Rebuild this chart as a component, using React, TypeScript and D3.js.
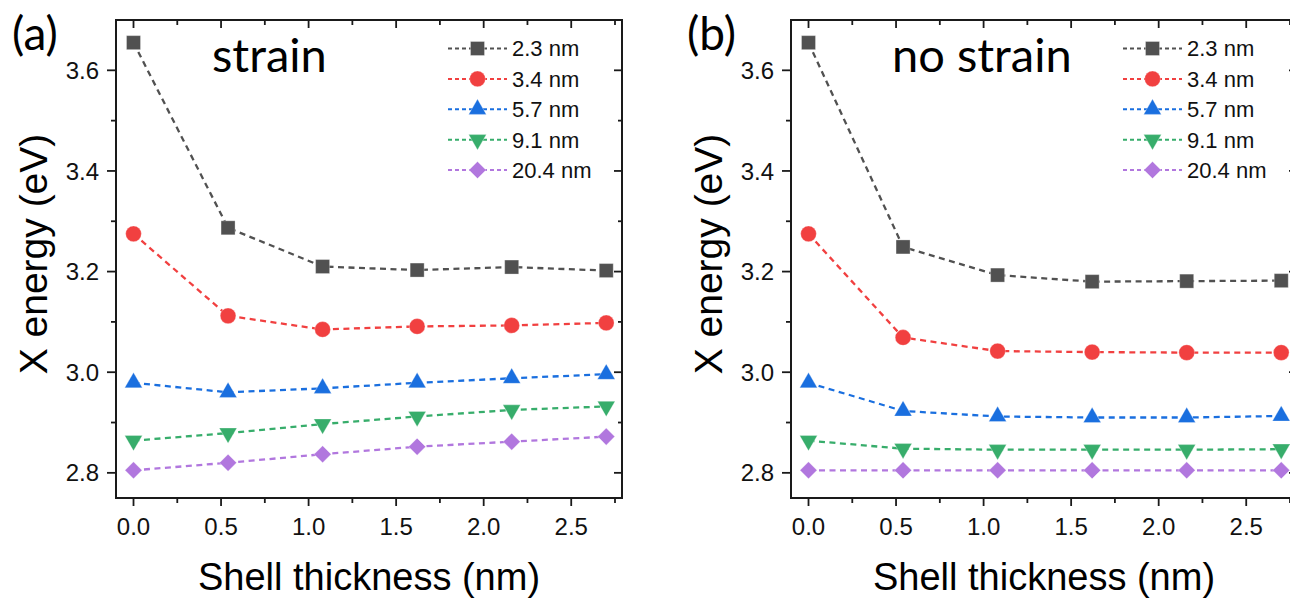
import React from "react";
import * as d3 from "d3";

// shell thickness (nm) for each point
const THICKNESS = [0, 0.54, 1.08, 1.62, 2.16, 2.7];
const CORE_SIZES = ["2.3 nm", "3.4 nm", "5.7 nm", "9.1 nm", "20.4 nm"];
const COLORS = ["#515151", "#F14040", "#1A6FDF", "#37AD6B", "#B177DE"];
const SHAPES = ["square", "circle", "triangle", "down", "diamond"];

// X energy (eV), one row per core size
const STRAIN = [
  [3.655, 3.287, 3.21, 3.203, 3.209, 3.202],
  [3.275, 3.112, 3.085, 3.091, 3.093, 3.098],
  [2.979, 2.96, 2.968, 2.979, 2.988, 2.996],
  [2.864, 2.879, 2.897, 2.912, 2.925, 2.932],
  [2.805, 2.82, 2.837, 2.852, 2.862, 2.872],
];
const NO_STRAIN = [
  [3.655, 3.249, 3.193, 3.18, 3.181, 3.182],
  [3.275, 3.069, 3.042, 3.04, 3.039, 3.039],
  [2.979, 2.923, 2.912, 2.91, 2.91, 2.913],
  [2.864, 2.848, 2.846, 2.846, 2.846, 2.847],
  [2.805, 2.805, 2.805, 2.805, 2.805, 2.805],
];

const Y_MAJOR = [2.8, 3.0, 3.2, 3.4, 3.6];
const Y_MINOR = [2.9, 3.1, 3.3, 3.5];
const X_MAJOR = [0, 0.5, 1.0, 1.5, 2.0, 2.5];
const X_MINOR = [0.25, 0.75, 1.25, 1.75, 2.25, 2.75];

const W = 1290, H = 598;
const PW = 506, TOP = 20, BOTTOM = 498;
const AXIS_FONT = "'Liberation Sans', Arial, sans-serif";
const LABEL_FONT = "Lato, 'Open Sans', sans-serif";

const markerPath: Record<string, string> = {
  square: d3.symbol(d3.symbolSquare, 196)() as string,
  circle: d3.symbol(d3.symbolCircle, 195)() as string,
  triangle: d3.symbol(d3.symbolTriangle, 135)() as string,
  down: d3.symbol(d3.symbolTriangle, 135)() as string,
  diamond: d3.symbol(d3.symbolSquare, 145)() as string,
};
const markerRot: Record<string, number> = { square: 0, circle: 0, triangle: 0, down: 180, diamond: 45 };

function Marker({ shape, x, y, color }: { shape: string; x: number; y: number; color: string }) {
  return (
    <path
      d={markerPath[shape]}
      transform={`translate(${x},${y}) rotate(${markerRot[shape]})`}
      fill={color}
      stroke="#fff"
      strokeOpacity={0.5}
      strokeWidth={0.6}
    />
  );
}

function Panel({ left, data, tag, note }: { left: number; data: number[][]; tag: string; note: string }) {
  const x = d3.scaleLinear().domain([-0.1, 2.79]).range([left, left + PW]);
  const y = d3.scaleLinear().domain([2.75, 3.7]).range([BOTTOM, TOP]);
  const line = d3.line<number>().x((_, i) => x(THICKNESS[i])).y(d => y(d));
  const right = left + PW;

  return (
    <g>
      {/* series */}
      {data.map((row, s) => (
        <g key={s}>
          <path d={line(row) as string} fill="none" stroke={COLORS[s]} strokeWidth={2.3} strokeDasharray="6,4.5" />
          {row.map((v, i) => (
            <Marker key={i} shape={SHAPES[s]} x={x(THICKNESS[i])} y={y(v)} color={COLORS[s]} />
          ))}
        </g>
      ))}

      {/* frame */}
      <rect x={left} y={TOP} width={PW} height={BOTTOM - TOP} fill="none" stroke="#1a1a1a" strokeWidth={2} />

      {/* y ticks */}
      {Y_MAJOR.map(v => (
        <g key={"ym" + v}>
          <line x1={left - 9} x2={left} y1={y(v)} y2={y(v)} stroke="#1a1a1a" strokeWidth={1.8} />
          <line x1={right - 8} x2={right} y1={y(v)} y2={y(v)} stroke="#1a1a1a" strokeWidth={1.8} />
          <text x={left - 17} y={y(v)} dy="0.36em" textAnchor="end" fontFamily={AXIS_FONT} fontSize={24} fill="#111">
            {v.toFixed(1)}
          </text>
        </g>
      ))}
      {Y_MINOR.map(v => (
        <g key={"yn" + v}>
          <line x1={left - 5} x2={left} y1={y(v)} y2={y(v)} stroke="#1a1a1a" strokeWidth={1.8} />
          <line x1={right - 4} x2={right} y1={y(v)} y2={y(v)} stroke="#1a1a1a" strokeWidth={1.8} />
        </g>
      ))}

      {/* x ticks */}
      {X_MAJOR.map(v => (
        <g key={"xm" + v}>
          <line x1={x(v)} x2={x(v)} y1={BOTTOM} y2={BOTTOM + 8} stroke="#1a1a1a" strokeWidth={1.8} />
          <line x1={x(v)} x2={x(v)} y1={TOP} y2={TOP + 8} stroke="#1a1a1a" strokeWidth={1.8} />
          <text x={x(v)} y={535} textAnchor="middle" fontFamily={AXIS_FONT} fontSize={24} fill="#111">
            {v.toFixed(1)}
          </text>
        </g>
      ))}
      {X_MINOR.map(v => (
        <g key={"xn" + v}>
          <line x1={x(v)} x2={x(v)} y1={BOTTOM} y2={BOTTOM + 5} stroke="#1a1a1a" strokeWidth={1.8} />
          <line x1={x(v)} x2={x(v)} y1={TOP} y2={TOP + 5} stroke="#1a1a1a" strokeWidth={1.8} />
        </g>
      ))}

      {/* axis titles */}
      <text x={left + PW / 2} y={590} textAnchor="middle" fontFamily={AXIS_FONT} fontSize={38} fill="#000">
        Shell thickness (nm)
      </text>
      <text
        transform={`translate(${left - 69},254) rotate(-90)`}
        textAnchor="middle"
        fontFamily={AXIS_FONT}
        fontSize={39}
        fill="#000"
      >
        X energy (eV)
      </text>

      {/* legend */}
      {CORE_SIZES.map((name, s) => {
        const ly = 48.5 + s * 30.4;
        return (
          <g key={name}>
            <line x1={left + 332} x2={left + 391} y1={ly} y2={ly} stroke={COLORS[s]} strokeWidth={2} strokeDasharray="4,3" />
            <Marker shape={SHAPES[s]} x={left + 361.5} y={ly} color={COLORS[s]} />
            <text x={left + 396} y={ly} dy="0.36em" fontFamily={AXIS_FONT} fontSize={22} fill="#111">
              {name}
            </text>
          </g>
        );
      })}

      {/* annotations */}
      <text x={left - 104} y={50} fontFamily={LABEL_FONT} fontSize={46} fill="#000">{tag}</text>
      <text x={left + (note === "strain" ? 96 : 101)} y={72} fontFamily={LABEL_FONT} fontSize={47} fill="#000">{note}</text>
    </g>
  );
}

export default function App() {
  return (
    <svg width={W} height={H} style={{ position: "absolute", left: 0, top: 0, background: "#fff" }}>
      <rect width={W} height={H} fill="#fff" />
      <Panel left={116} data={STRAIN} tag="(a)" note="strain" />
      <Panel left={791} data={NO_STRAIN} tag="(b)" note="no strain" />
    </svg>
  );
}
